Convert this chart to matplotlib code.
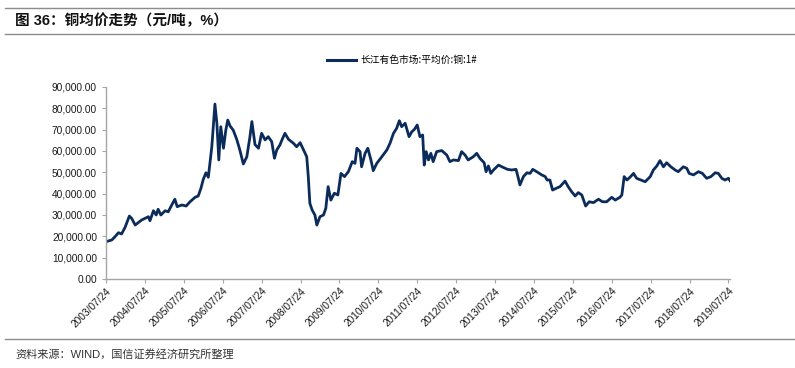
import matplotlib
matplotlib.use("Agg")
import matplotlib.pyplot as plt
from matplotlib.lines import Line2D
from matplotlib.ticker import FuncFormatter

plt.rcParams['font.family'] = ['Liberation Sans', 'Noto Sans CJK SC', 'DejaVu Sans']

# Copper average price, Changjiang spot market (yuan/ton)
# time is in decimal years
years = [
    2003.56, 2003.71, 2003.79, 2003.88, 2003.96, 2004.05, 2004.16, 2004.22, 2004.31, 2004.39,
    2004.48, 2004.56, 2004.65, 2004.69, 2004.78, 2004.85, 2004.90, 2004.97, 2005.08, 2005.16,
    2005.25, 2005.33, 2005.39, 2005.51, 2005.62, 2005.72, 2005.85, 2005.93, 2006.00, 2006.06,
    2006.13, 2006.19, 2006.28, 2006.36, 2006.41, 2006.46, 2006.51, 2006.58, 2006.64, 2006.69,
    2006.75, 2006.83, 2006.92, 2007.00, 2007.09, 2007.18, 2007.26, 2007.31, 2007.39, 2007.48,
    2007.56, 2007.65, 2007.73, 2007.82, 2007.89, 2007.95, 2008.03, 2008.09, 2008.16, 2008.25,
    2008.38, 2008.46, 2008.55, 2008.63, 2008.72, 2008.76, 2008.80, 2008.86, 2008.93, 2008.98,
    2009.06, 2009.15, 2009.21, 2009.27, 2009.34, 2009.43, 2009.52, 2009.60, 2009.69, 2009.79,
    2009.89, 2009.96, 2010.01, 2010.09, 2010.13, 2010.22, 2010.29, 2010.37, 2010.43, 2010.52,
    2010.65, 2010.78, 2010.86, 2010.95, 2011.03, 2011.10, 2011.16, 2011.25, 2011.35, 2011.42,
    2011.49, 2011.56, 2011.63, 2011.70, 2011.74, 2011.79, 2011.85, 2011.91, 2011.97, 2012.06,
    2012.19, 2012.32, 2012.40, 2012.49, 2012.62, 2012.70, 2012.79, 2012.87, 2013.00, 2013.09,
    2013.17, 2013.28, 2013.33, 2013.39, 2013.45, 2013.52, 2013.65, 2013.76, 2013.88, 2013.99,
    2014.10, 2014.16, 2014.20, 2014.29, 2014.38, 2014.46, 2014.53, 2014.63, 2014.76, 2014.85,
    2014.90, 2014.97, 2015.04, 2015.13, 2015.23, 2015.36, 2015.44, 2015.53, 2015.62, 2015.70,
    2015.79, 2015.89, 2015.98, 2016.09, 2016.22, 2016.32, 2016.43, 2016.56, 2016.65, 2016.77,
    2016.82, 2016.88, 2016.95, 2017.03, 2017.12, 2017.20, 2017.31, 2017.42, 2017.55, 2017.63,
    2017.72, 2017.80, 2017.89, 2017.97, 2018.08, 2018.19, 2018.27, 2018.40, 2018.49, 2018.55,
    2018.66, 2018.79, 2018.89, 2019.00, 2019.11, 2019.22, 2019.30, 2019.39, 2019.47, 2019.56,
    2019.60,
]
price = [
    17500, 18300, 19800, 21700, 21100, 24200, 29500, 28400, 25300, 26400,
    27700, 28400, 29200, 27300, 32000, 30000, 32700, 30000, 32000, 31500,
    34700, 37400, 33900, 34700, 34200, 36200, 38300, 38900, 42500, 46700,
    49800, 47700, 62000, 82000, 73000, 55800, 71400, 61300, 69800, 74500,
    71700, 69800, 65500, 60500, 53900, 57300, 66700, 73800, 63000, 61300,
    68300, 65200, 66700, 64400, 56600, 60500, 62800, 65500, 68300, 65500,
    63600, 62000, 63900, 60800, 57300, 48000, 35500, 32300, 30000, 25300,
    29200, 30000, 33100, 43300, 37000, 40200, 39400, 49500, 48000, 50300,
    55000, 54200, 61300, 59700, 52600, 58900, 61300, 55800, 50800, 54200,
    57300, 60500, 63600, 68300, 70600, 74200, 71400, 73000, 66700, 69000,
    70200, 72200, 66700, 67500, 53400, 59700, 55800, 58900, 55000, 59700,
    60200, 58100, 55000, 55800, 55500, 59700, 58100, 55800, 57300, 58900,
    56600, 54500, 50300, 53000, 49500, 51100, 53400, 52400, 51400, 51100,
    51400, 47200, 44100, 48000, 49800, 49500, 51400, 50300, 48800, 48000,
    46400, 46400, 41700, 42500, 43300, 45900, 43300, 40900, 38900, 40500,
    39400, 34200, 36200, 35800, 37400, 36200, 36200, 38300, 37000, 38300,
    39400, 48000, 46400, 47700, 49500, 47200, 46400, 45600, 48000, 51100,
    53000, 55500, 52600, 54500, 52600, 51100, 50300, 52600, 51900, 49500,
    48800, 50300, 49500, 47200, 48000, 49800, 49500, 47200, 46400, 47200,
    46100,
]

tick_years = [2003.56 + k for k in range(17)]
tick_labels = [f"{2003 + k}/07/24" for k in range(17)]
y_ticks = list(range(0, 90001, 10000))

title = "图 36：铜均价走势（元/吨，%）"
legend_label = "长江有色市场:平均价:铜:1#"
source = "资料来源：WIND，国信证券经济研究所整理"

line_color = "#0b2c5b"
axis_gray = "#a6a6a6"

fig = plt.figure(figsize=(7.95, 3.68), dpi=100)
ax = fig.add_axes([106 / 795, 1 - 279 / 368, (730 - 106) / 795, (279 - 87) / 368])

ax.plot(years, price, color=line_color, linewidth=2.0, solid_joinstyle="round")

ax.set_xlim(2003.56, 2019.60)
ax.set_ylim(0, 90000)
ax.set_yticks(y_ticks)
ax.yaxis.set_major_formatter(FuncFormatter(lambda v, p: f"{v:,.2f}"))
ax.set_xticks(tick_years)
ax.set_xticklabels(tick_labels, rotation=45, ha="right", rotation_mode="anchor")

for s in ["top", "right"]:
    ax.spines[s].set_visible(False)
for s in ["left", "bottom"]:
    ax.spines[s].set_color(axis_gray)
    ax.spines[s].set_linewidth(1.0)
ax.tick_params(axis="both", colors=axis_gray, labelcolor="#1a1a1a", labelsize=7.3,
               length=3, width=0.8, direction="out")
ax.tick_params(axis="x", pad=2)

# legend above plot
leg_handle = Line2D([], [], color=line_color, linewidth=2.2)
fig.legend([leg_handle], [legend_label], loc="center left", bbox_to_anchor=(318 / 795, 1 - 60 / 368),
           frameon=False, handlelength=3.0, handletextpad=0.5,
           prop={"family": ["Noto Sans CJK SC"], "size": 7})

# header and footer rules
for yy in [8, 34, 339]:
    fig.add_artist(Line2D([5 / 795, 1], [1 - yy / 368] * 2, color="#8c8c8c", linewidth=1.0,
                          transform=fig.transFigure))

fig.text(15 / 795, 1 - 21 / 368, title, fontsize=10.5, fontweight="bold",
         va="center", ha="left", family=["Liberation Sans", "Noto Sans CJK SC"], color="#111111")
fig.text(15 / 795, 1 - 354 / 368, source, fontsize=8, va="center", ha="left",
         family=["Liberation Sans", "Noto Sans CJK SC"], color="#333333")

fig.savefig("out.png", dpi=100)
